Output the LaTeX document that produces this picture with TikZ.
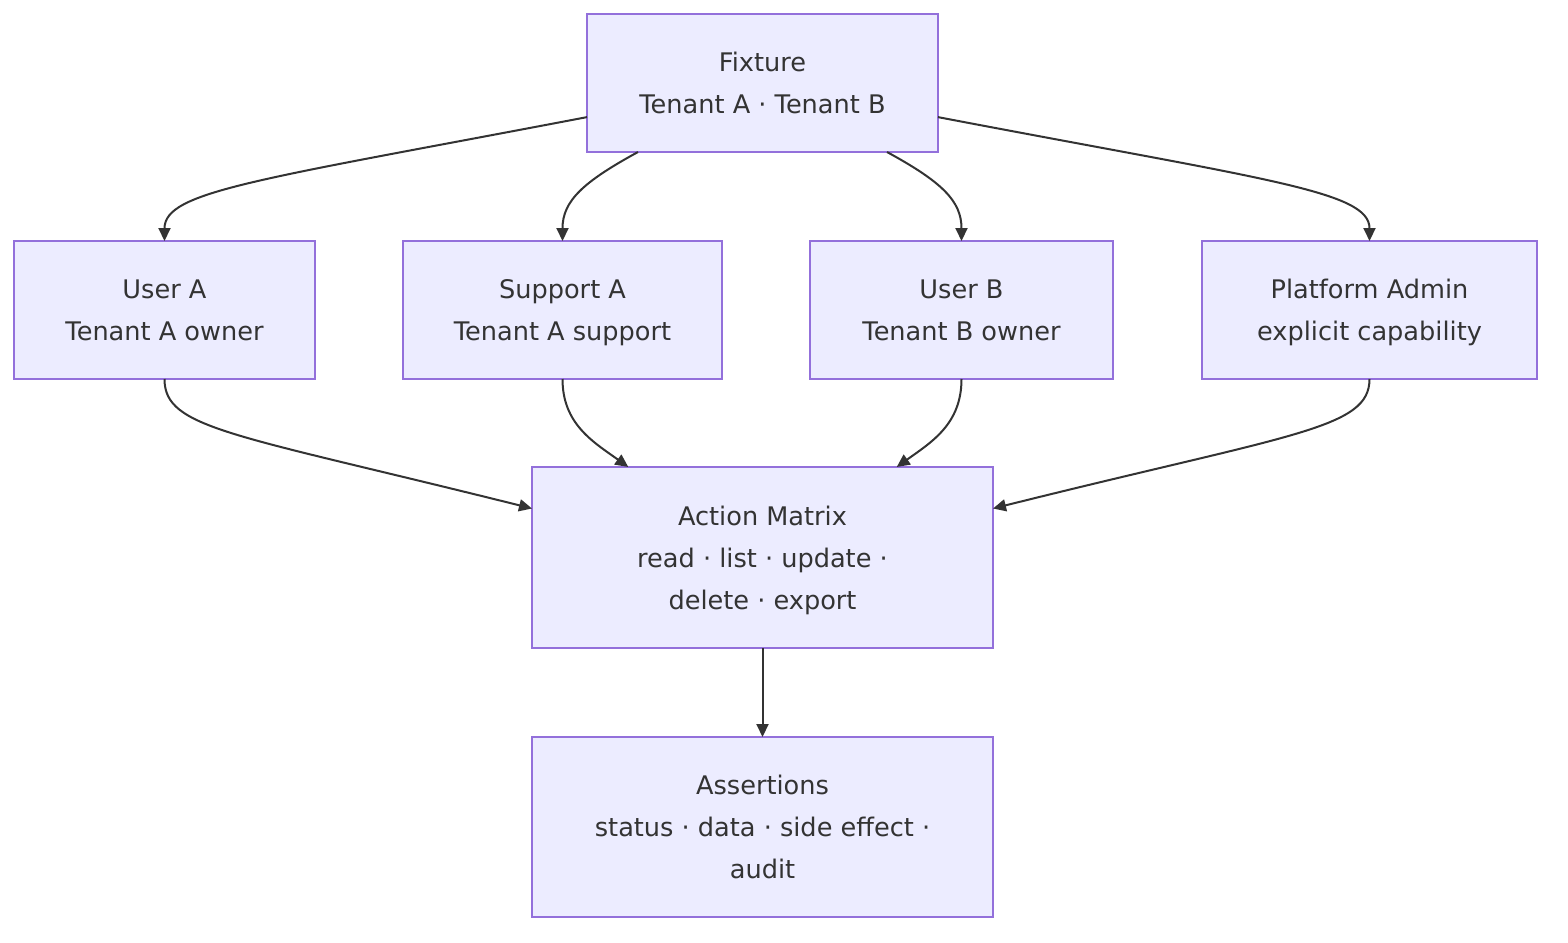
\documentclass[tikz,border=0pt]{standalone}
\usepackage{fontspec}
\setmainfont{DejaVu Sans}
\usepackage{tikz}
\usetikzlibrary{arrows.meta, positioning}
\definecolor{boxfill}{HTML}{ECECFF}
\definecolor{boxline}{HTML}{9370DB}
\definecolor{inkdark}{HTML}{333333}
\tikzset{
  arrow/.style={draw=inkdark, line width=1pt, -{Triangle[length=6.5pt, width=6pt]}},
  box/.style={draw=boxline, fill=boxfill, line width=0.6pt, rectangle, align=center, text=inkdark,
    font=\fontsize{12.8}{21}\selectfont, text depth=0pt, minimum height=69pt, inner sep=0pt, outer sep=0pt}
}

\begin{document}
\begin{tikzpicture}[x=0.5pt, y=-0.5pt, node distance=44.5pt]
  \useasboundingbox (0,0) rectangle (1568,942);
  \node [box, minimum width=175.5pt] (fix) at (762.5,83) {Fixture\\Tenant A · Tenant B};
  \node [box, minimum width=150.5pt] (ua) at (164.5,310) {User A\\Tenant A owner};
  \node [box, minimum width=159.5pt, right=44pt of ua] (sa) {Support A\\Tenant A support};
  \node [box, minimum width=151.5pt, right=44pt of sa] (ub) {User B\\Tenant B owner};
  \node [box, minimum width=167.5pt, right=44.5pt of ub] (pa) {Platform Admin\\explicit capability};
  \node [box, minimum width=230.5pt, minimum height=90.5pt] (act) at (762.5,557.5) {Action Matrix\\read · list · update ·\\delete · export};
  \node [box, minimum width=230.5pt, minimum height=90pt, below=44.5pt of act] (as) {Assertions\\status · data · side effect ·\\audit};

  \draw [arrow] (fix.191) .. controls +(-330,63) and +(0,-50) .. (ua.north);
  \draw [arrow] (fix.209) .. controls +(-55,30) and +(0,-40) .. (sa.north);
  \draw [arrow] (fix.331) .. controls +(55,30) and +(0,-40) .. (ub.north);
  \draw [arrow] (fix.-11) .. controls +(330,63) and +(0,-50) .. (pa.north);

  \draw [arrow] (ua.south) .. controls +(0,50) and +(-300,-75) .. (act.168);
  \draw [arrow] (sa.south) .. controls +(0,45) and +(-35,-25) .. (act.146);
  \draw [arrow] (ub.south) .. controls +(0,45) and +(35,-25) .. (act.34);
  \draw [arrow] (pa.south) .. controls +(0,50) and +(300,-75) .. (act.12);
  \draw [arrow] (act) -- (as);
\end{tikzpicture}
\end{document}
